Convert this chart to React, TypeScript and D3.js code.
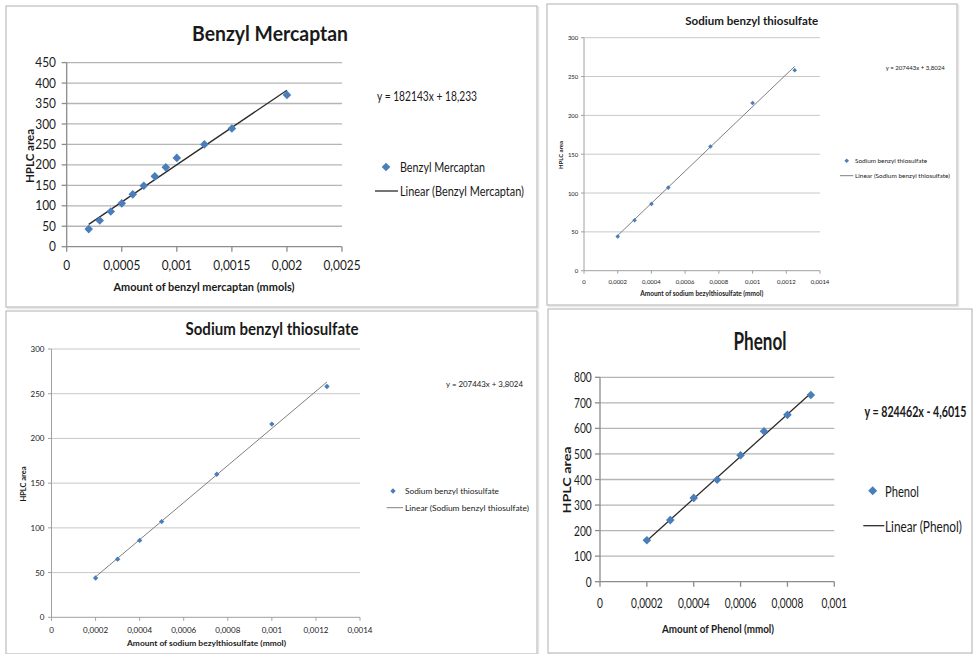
import React from "react";
import * as d3 from "d3";

// ---------- Data ----------
// Benzyl Mercaptan
const bmX = [0.0002, 0.0003, 0.0004, 0.0005, 0.0006, 0.0007, 0.0008, 0.0009, 0.001, 0.00125, 0.0015, 0.002];
const bmY = [43, 64, 86, 106, 128, 149, 172, 194, 217, 250, 289, 371];
const bmFit = [182143, 18.233];
const bmXTicks = [0, 0.0005, 0.001, 0.0015, 0.002, 0.0025];
const bmYTicks = [0, 50, 100, 150, 200, 250, 300, 350, 400, 450];

// Sodium benzyl thiosulfate
const sbtX = [0.0002, 0.0003, 0.0004, 0.0005, 0.00075, 0.001, 0.00125];
const sbtY = [44, 65, 86, 107, 160, 216, 258];
const sbtFit = [207443, 3.8024];
const sbtXTicks = [0, 0.0002, 0.0004, 0.0006, 0.0008, 0.001, 0.0012, 0.0014];
const sbtYTicks = [0, 50, 100, 150, 200, 250, 300];

// Phenol
const phX = [0.0002, 0.0003, 0.0004, 0.0005, 0.0006, 0.0007, 0.0008, 0.0009];
const phY = [162, 241, 328, 399, 495, 589, 653, 731];
const phFit = [824462, -4.6015];
const phXTicks = [0, 0.0002, 0.0004, 0.0006, 0.0008, 0.001];
const phYTicks = [0, 100, 200, 300, 400, 500, 600, 700, 800];

const fmt = (v: number) => (v === 0 ? "0" : String(+v.toPrecision(6)).replace(".", ","));

const FONT = "Lato, 'Open Sans', sans-serif";

function T({ x, y, children, size, bold, anchor = "start", len, sx = 1, rotate = 0, fill = "#1a1a1a" }: any) {
  const tr = `translate(${x},${y})` + (rotate ? ` rotate(${rotate})` : "") + (sx !== 1 ? ` scale(${sx},1)` : "");
  return (
    <text
      transform={tr}
      fontFamily={FONT}
      fontSize={size}
      fontWeight={bold ? 700 : 400}
      textAnchor={anchor}
      dominantBaseline="central"
      fill={fill}
      textLength={len ? len / sx : undefined}
      lengthAdjust={len ? "spacingAndGlyphs" : undefined}
    >
      {children}
    </text>
  );
}

function Panel({ c }: { c: any }) {
  const x = d3.scaleLinear().domain(c.xDomain).range([c.plot[0], c.plot[2]]);
  const y = d3.scaleLinear().domain(c.yDomain).range([c.plot[3], c.plot[1]]);
  const [slope, icpt] = c.fit;
  const x0 = c.xs[0];
  const x1 = c.xs[c.xs.length - 1];
  const trend = d3.line()([
    [x(x0), y(slope * x0 + icpt)],
    [x(x1), y(slope * x1 + icpt)],
  ]) as string;
  const r = c.marker;
  const diamond = (cx: number, cy: number, rr: number) =>
    `M${cx},${cy - rr}L${cx + rr},${cy}L${cx},${cy + rr}L${cx - rr},${cy}Z`;
  const [fx0, fy0, fx1, fy1] = c.frame;
  const L = c.legend;
  const ts = c.tsx;
  return (
    <g>
      <rect x={fx0 + 1.5} y={fy0 + 1.5} width={fx1 - fx0} height={fy1 - fy0} fill="none" stroke="#e6e6e6" strokeWidth={1.5} />
      <rect x={fx0} y={fy0} width={fx1 - fx0} height={fy1 - fy0} fill="#fff" stroke="#bdbdbd" strokeWidth={1.2} />
      {c.yTicks.filter((t: number) => t > 0).map((t: number) => (
        <line key={"g" + t} x1={x(c.xDomain[0])} x2={x(c.xDomain[1])} y1={y(t)} y2={y(t)} stroke={c.gridColor} strokeWidth={c.gridW} />
      ))}
      <line x1={x(0)} x2={x(0)} y1={y(c.yDomain[1])} y2={y(0)} stroke={c.axisColor} strokeWidth={c.gridW} />
      <line x1={x(0)} x2={x(c.xDomain[1])} y1={y(0)} y2={y(0)} stroke={c.axisColor} strokeWidth={c.gridW} />
      {c.yTicks.map((t: number) => (
        <line key={"yt" + t} x1={x(0) - c.tickLen} x2={x(0)} y1={y(t)} y2={y(t)} stroke={c.axisColor} strokeWidth={c.gridW} />
      ))}
      {c.xTicks.map((t: number) => (
        <line key={"xt" + t} x1={x(t)} x2={x(t)} y1={y(0)} y2={y(0) + c.tickLen} stroke={c.axisColor} strokeWidth={c.gridW} />
      ))}
      {c.yTicks.map((t: number) => (
        <T key={"yl" + t} x={c.yLabelX} y={y(t)} size={c.tickSize} anchor="end" sx={c.sx}>
          {fmt(t)}
        </T>
      ))}
      {c.xTicks.map((t: number) => (
        <T key={"xl" + t} x={x(t)} y={c.xLabelY} size={c.tickSize} anchor="middle" sx={c.sx}>
          {fmt(t)}
        </T>
      ))}
      <path d={trend} stroke={c.lineColor} strokeWidth={c.lineW} fill="none" />
      {c.xs.map((v: number, i: number) => (
        <path key={"p" + i} d={diamond(x(v), y(c.ys[i]), r)} fill="#4a7ebb" />
      ))}
      <T x={c.title.x} y={c.title.y} size={c.title.size} bold anchor="middle" len={c.title.len} sx={ts}>
        {c.title.text}
      </T>
      <T x={c.xTitle.x} y={c.xTitle.y} size={c.xTitle.size} bold anchor="middle" len={c.xTitle.len} sx={ts}>
        {c.xTitle.text}
      </T>
      <T x={c.yTitle.x} y={c.yTitle.y} size={c.yTitle.size} bold anchor="middle" len={c.yTitle.len} rotate={-90}>
        {c.yTitle.text}
      </T>
      <T x={c.eq.x} y={c.eq.y} size={c.eq.size} bold={c.eq.bold} len={c.eq.len} sx={ts}>
        {c.eq.text}
      </T>
      <path d={diamond(L.mx, L.my, L.mr)} fill="#4a7ebb" />
      <T x={L.tx} y={L.my} size={L.size} len={L.len1} sx={ts}>
        {L.name}
      </T>
      <line x1={L.lx0} x2={L.lx1} y1={L.ly} y2={L.ly} stroke={c.lineColor} strokeWidth={c.lineW} />
      <T x={L.tx} y={L.ly} size={L.size} len={L.len2} sx={ts}>
        {"Linear (" + L.name + ")"}
      </T>
    </g>
  );
}

const panels = [
  {
    frame: [6, 6, 537, 307],
    plot: [66.7, 62.6, 342, 246.7],
    xDomain: [0, 0.0025],
    yDomain: [0, 450],
    xTicks: bmXTicks,
    yTicks: bmYTicks,
    xs: bmX,
    ys: bmY,
    fit: bmFit,
    marker: 4.3,
    gridColor: "#b5b5b5",
    axisColor: "#8c8c8c",
    gridW: 1.3,
    lineColor: "#2b2b2b",
    lineW: 1.3,
    tickLen: 5,
    tickSize: 12.5,
    sx: 0.95,
    tsx: 0.9,
    yLabelX: 56,
    xLabelY: 265,
    title: { text: "Benzyl Mercaptan", x: 270, y: 33, size: 21, len: 156 },
    xTitle: { text: "Amount of benzyl mercaptan (mmols)", x: 204, y: 286, size: 12, len: 181 },
    yTitle: { text: "HPLC area", x: 29, y: 156, size: 12, len: 54 },
    eq: { text: "y = 182143x + 18,233", x: 377, y: 96, size: 12.5, len: 100 },
    legend: { name: "Benzyl Mercaptan", mx: 386, my: 167, mr: 4.3, tx: 400, size: 12.5, len1: 85, len2: 124, lx0: 375, lx1: 398, ly: 191 },
  },
  {
    frame: [547, 4, 957, 305],
    plot: [584, 37.7, 820, 270.7],
    xDomain: [0, 0.0014],
    yDomain: [0, 300],
    xTicks: sbtXTicks,
    yTicks: sbtYTicks,
    xs: sbtX,
    ys: sbtY,
    fit: sbtFit,
    marker: 2.3,
    gridColor: "#c8c8c8",
    axisColor: "#a0a0a0",
    gridW: 1,
    lineColor: "#7f7f7f",
    lineW: 1,
    tickLen: 3,
    tickSize: 6.5,
    sx: 0.92,
    tsx: 1,
    yLabelX: 578.3,
    xLabelY: 281.7,
    title: { text: "Sodium benzyl thiosulfate", x: 751.7, y: 20.7, size: 11.5, len: 133 },
    xTitle: { text: "Amount of sodium bezylthiosulfate  (mmol)", x: 701.7, y: 293.3, size: 6.5, len: 123 },
    yTitle: { text: "HPLC area", x: 560, y: 155, size: 6, len: 28 },
    eq: { text: "y = 207443x + 3,8024", x: 885.7, y: 67.7, size: 6.5, len: 59 },
    legend: { name: "Sodium benzyl thiosulfate", mx: 846.7, my: 160.7, mr: 2.3, tx: 855, size: 6.5, len1: 72, len2: 95, lx0: 840, lx1: 853.3, ly: 175.7 },
  },
  {
    frame: [6, 311, 537, 654],
    plot: [51.5, 349, 360, 617.3],
    xDomain: [0, 0.0014],
    yDomain: [0, 300],
    xTicks: sbtXTicks,
    yTicks: sbtYTicks,
    xs: sbtX,
    ys: sbtY,
    fit: sbtFit,
    marker: 2.7,
    gridColor: "#c8c8c8",
    axisColor: "#a0a0a0",
    gridW: 1,
    lineColor: "#7f7f7f",
    lineW: 1,
    tickLen: 3.5,
    tickSize: 8,
    sx: 1,
    tsx: 1,
    yLabelX: 44.5,
    xLabelY: 630,
    title: { text: "Sodium benzyl thiosulfate", x: 272, y: 329, size: 16.5, len: 173 },
    xTitle: { text: "Amount of sodium bezylthiosulfate  (mmol)", x: 206.5, y: 643.3, size: 8, len: 159 },
    yTitle: { text: "HPLC area", x: 22.6, y: 484, size: 7, len: 35 },
    eq: { text: "y = 207443x + 3,8024", x: 446, y: 384, size: 8, len: 77 },
    legend: { name: "Sodium benzyl thiosulfate", mx: 393, my: 491, mr: 2.7, tx: 405, size: 8, len1: 94, len2: 124, lx0: 386.7, lx1: 403, ly: 507.7 },
  },
  {
    frame: [548, 309, 972, 653],
    plot: [600, 377.3, 834.3, 581.7],
    xDomain: [0, 0.001],
    yDomain: [0, 800],
    xTicks: phXTicks,
    yTicks: phYTicks,
    xs: phX,
    ys: phY,
    fit: phFit,
    marker: 4.3,
    gridColor: "#b5b5b5",
    axisColor: "#8c8c8c",
    gridW: 1.3,
    lineColor: "#2b2b2b",
    lineW: 1.3,
    tickLen: 5,
    tickSize: 13,
    sx: 0.78,
    tsx: 0.73,
    yLabelX: 591.7,
    xLabelY: 603.3,
    title: { text: "Phenol", x: 760, y: 340, size: 25, len: 53 },
    xTitle: { text: "Amount of Phenol (mmol)", x: 718, y: 628, size: 12, len: 112 },
    yTitle: { text: "HPLC area", x: 566.7, y: 480, size: 12, len: 67 },
    eq: { text: "y = 824462x - 4,6015", x: 864.5, y: 411.7, size: 15, bold: true, len: 102 },
    legend: { name: "Phenol", mx: 872.7, my: 490.7, mr: 4.5, tx: 885, size: 16, len1: 34, len2: 77, lx0: 863.3, lx1: 884.3, ly: 525.7 },
  },
];

export default function App() {
  return (
    <svg
      width={973}
      height={654}
      viewBox="0 0 973 654"
      style={{ position: "absolute", left: 0, top: 0, background: "#fff" }}
    >
      <rect x={0} y={0} width={973} height={654} fill="#fff" />
      {panels.map((c, i) => (
        <Panel key={i} c={c} />
      ))}
    </svg>
  );
}
